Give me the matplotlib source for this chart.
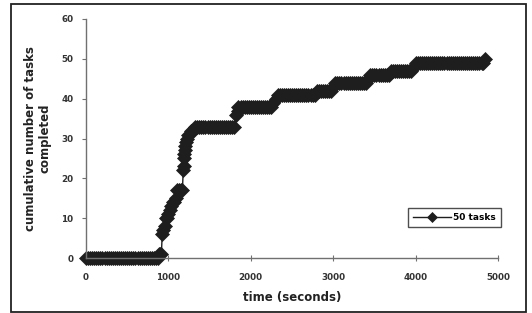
import matplotlib
matplotlib.use("Agg")
import matplotlib.pyplot as plt
from matplotlib.patches import Rectangle

# Sampled observations (time in seconds, cumulative tasks completed)
time_s = ([*range(0, 851, 25)]
          + [870, 885, 900, 915, 925, 940, 955, 970, 985, 1000, 1015, 1030,
             1050, 1070, 1090, 1110, 1130, 1150, 1170, 1180, 1185, 1190, 1195,
             1200, 1205, 1210, 1220, 1240, 1270, 1300, 1325]
          + [*range(1350, 1801, 25)] + [1825, 1840]
          + [*range(1850, 2251, 25)] + [2275, 2300]
          + [*range(2325, 2776, 25)]
          + [*range(2800, 2976, 25)] + [3000]
          + [*range(3025, 3401, 25)] + [3425]
          + [*range(3450, 3676, 25)]
          + [*range(3700, 3951, 25)] + [3975]
          + [*range(4000, 4801, 25)] + [4820, 4840])
tasks_done = ([0] * 35
              + [0, 1, 1, 1, 6, 7, 8, 10, 10, 11, 12, 13,
                 14, 14, 15, 17, 17, 17, 17, 22, 23, 25, 26,
                 27, 28, 29, 30, 31, 32, 32, 33]
              + [33] * 19 + [36, 37]
              + [38] * 17 + [39, 40]
              + [41] * 19
              + [42] * 8 + [43]
              + [44] * 16 + [45]
              + [46] * 10
              + [47] * 11 + [48]
              + [49] * 33 + [49, 50])
series_label = "50 tasks"
x_ticks = [0, 1000, 2000, 3000, 4000, 5000]
y_ticks = [0, 10, 20, 30, 40, 50, 60]

W, H = 532, 313
fig = plt.figure(figsize=(W / 100, H / 100), dpi=100)
fig.patch.set_facecolor("white")

# chart-area border
fig.patches.append(Rectangle((11 / W, 1 - 312 / H), (526 - 11) / W, (312 - 4) / H,
                             transform=fig.transFigure, fill=False,
                             edgecolor="#222222", linewidth=1.3))

ax = fig.add_axes([86 / W, 55 / H, 412 / W, 239 / H])
ax.plot(time_s, tasks_done, color="#1e1e1e", linewidth=1.0, marker="D",
        markersize=7.3, markeredgewidth=0.5, markeredgecolor="#1e1e1e",
        label=series_label, clip_on=False)

ax.set_xlim(0, 5000)
ax.set_ylim(0, 60)
ax.set_xticks(x_ticks)
ax.set_yticks(y_ticks)
for s in ("top", "right"):
    ax.spines[s].set_visible(False)
for s in ("left", "bottom"):
    ax.spines[s].set_color("#707070")
    ax.spines[s].set_linewidth(1.0)

ax.tick_params(axis="x", direction="inout", length=4, width=0.8, color="#707070",
               pad=9, labelcolor="#333333")
ax.tick_params(axis="y", direction="out", length=3, width=0.8, color="#707070",
               pad=6, labelcolor="#333333")
for lab in ax.get_xticklabels() + ax.get_yticklabels():
    lab.set_fontfamily("DejaVu Sans")
    lab.set_fontweight("bold")
    lab.set_fontsize(6.3)

ax.set_xlabel("time (seconds)", fontsize=8.5, fontweight="bold",
              color="#222222", labelpad=6)
ax.set_ylabel("cumulative number of tasks\ncompleted", fontsize=8.5,
              fontweight="bold", color="#222222", labelpad=7, linespacing=1.2)

leg = ax.legend(loc="lower right", bbox_to_anchor=(501 / W, 1 - 227 / H),
                bbox_transform=fig.transFigure, frameon=True, numpoints=1,
                fancybox=False, edgecolor="#222222", handlelength=4.2,
                borderpad=0.55, borderaxespad=0, handletextpad=0.3,
                markerscale=0.7, prop=dict(weight="bold", size=6.5))
leg.get_frame().set_linewidth(1.0)

fig.savefig("out.png", dpi=100, facecolor="white")
